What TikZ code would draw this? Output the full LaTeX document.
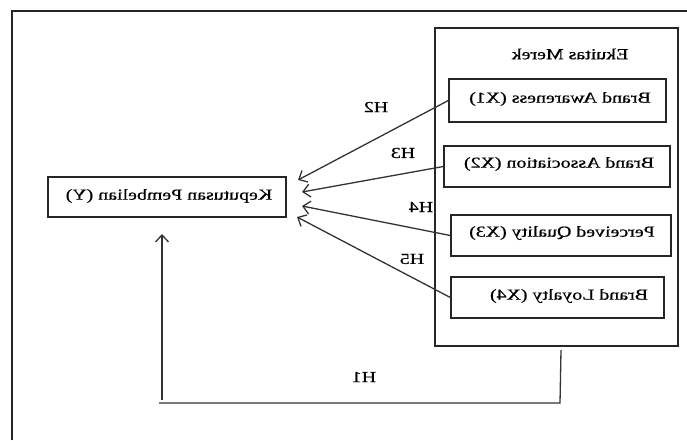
\documentclass[tikz,border=0pt]{standalone}
\usepackage{graphicx}
\usepackage{fontspec}
\setmainfont{Liberation Serif}
\newfontfamily\heavyfont[FakeBold=0.6]{Liberation Serif}
\usetikzlibrary{arrows.meta}
\newcommand{\mir}[1]{\scalebox{-1.3}[1]{#1}}
\tikzset{
  box/.style={draw=black!85, line width=1.4pt, inner sep=0pt, rectangle},
  txt/.style={inner sep=0pt, font=\heavyfont\fontsize{15.3}{18}\selectfont, text=black},
  conn/.style={draw=black!80, line width=1.3pt},
  arr/.style={conn, -{Straight Barb[length=7pt,width=13pt]}}
}
\begin{document}
\begin{tikzpicture}[x=1pt,y=-1pt]
\useasboundingbox (0,0) rectangle (687,440);
\fill[white] (0,0) rectangle (687,440);
% outer frame (partially visible)
\draw[line width=1.4pt, black!85] (12,440) -- (12,11) -- (687,11);
% Ekuitas Merek group
\node[box, minimum width=243pt, minimum height=318pt] (ek) at (556.5,187) {};
\node[txt] (ekt) at (570,54) {\mir{Ekuitas Merek}};
% indicator boxes
\node[box, minimum width=217pt, minimum height=43pt] (x1) at (557.5,100.5) {};
\node[txt] (x1t) at (560,99) {\mir{Brand Awareness (X1)}};
\node[box, minimum width=226pt, minimum height=41pt] (x2) at (557,166.5) {};
\node[txt] (x2t) at (559,164) {\mir{Brand Association (X2)}};
\node[box, minimum width=220pt, minimum height=41pt] (x3) at (561,235.5) {};
\node[txt] (x3t) at (562,233) {\mir{Perceived Quality (X3)}};
\node[box, minimum width=213pt, minimum height=41pt] (x4) at (557.5,297.5) {};
\node[txt] (x4t) at (569,296) {\mir{Brand Loyalty (X4)}};
% dependent
\node[box, minimum width=238pt, minimum height=40pt] (y) at (167,197) {};
\node[txt] (yt) at (169,196) {\mir{Keputusan Pembelian (Y)}};
% arrow ends
\coordinate (e2) at (298,180);
\coordinate (e3) at (302,192);
\coordinate (e4) at (302,206);
\coordinate (e5) at (297,217);
\draw[arr] (x1.west) -- (e2);
\draw[arr] (x2.west) -- (e3);
\draw[arr] (x3.west) -- (e4);
\draw[arr] (x4.west) -- (e5);
% H1 path
\coordinate (h1a) at (561,350);
\coordinate (h1b) at (560,403);
\coordinate (h1c) at (159,403);
\coordinate (h1d) at (162,400);
\coordinate (h1e) at (162,234);
\draw[conn] (h1a) -- (h1b) -- (h1c);
\draw[arr] (h1d) -- (h1e);
% labels
\node[txt] (l2) at (376,107) {\mir{H2}};
\node[txt] (l3) at (403,153) {\mir{H3}};
\node[txt] (l4) at (421,207) {\mir{H4}};
\node[txt] (l5) at (412,259) {\mir{H5}};
\node[txt] (l1) at (364,377) {\mir{H1}};
\end{tikzpicture}
\end{document}
